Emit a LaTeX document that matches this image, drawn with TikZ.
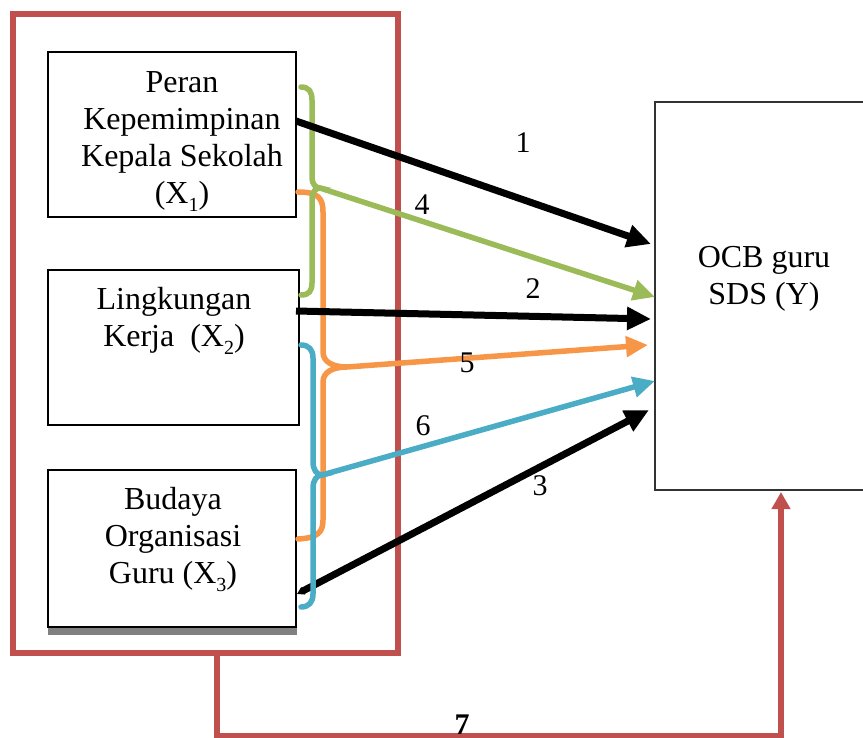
\documentclass[tikz,border=0pt]{standalone}
\usepackage{fontspec}
\setmainfont{Liberation Serif}
\usetikzlibrary{arrows.meta}
\definecolor{cgreen}{HTML}{9BBB59}
\definecolor{corange}{HTML}{F79646}
\definecolor{cblue}{HTML}{4BACC6}
\definecolor{cred}{HTML}{C0504D}
\newcommand\subx[1]{\raisebox{-0.25em}{\fontsize{20}{20}\selectfont #1}}
\begin{document}
\begin{tikzpicture}[x=1pt,y=-1pt,
 txt/.style={font=\fontsize{32}{37}\selectfont, align=center, inner sep=0pt, anchor=base},
 lbl/.style={font=\fontsize{30}{30}\selectfont, inner sep=0pt, anchor=base},
 varbox/.style={draw=black, line width=2pt, fill=white, inner sep=0pt},
 blackarrow/.style={line width=7pt, -{Triangle[length=24pt,width=22pt]}},
 colarrow/.style={line width=5.5pt, -{Triangle[length=22pt,width=20pt]}},
 brace/.style={line width=5.5pt, line cap=round}]
\useasboundingbox (0,0) rectangle (863,738);
% outer red frame
\node[draw=cred, line width=6pt, minimum width=385pt, minimum height=639pt, inner sep=0pt] (frame) at (205.5,333.5) {};
% dependent variable box
\node[draw=black!80, line width=1.6pt, minimum width=220pt, minimum height=388pt, inner sep=0pt] (y) at (765,296) {};
\node[txt] (yt) at (764,305) {OCB guru\\SDS (Y)};
% independent variable boxes
\fill[gray] (48,627) rectangle (297,635);
\node[varbox, minimum width=248pt, minimum height=165pt] (x1) at (172,134.5) {};
\node[varbox, minimum width=251pt, minimum height=155pt] (x2) at (173.5,347.5) {};
\node[varbox, minimum width=248pt, minimum height=157pt] (x3) at (172,548.5) {};
\node[txt] (x1t) at (182,203.5) {Peran\\Kepemimpinan\\Kepala Sekolah\\(X\subx{1})};
\node[txt] (x2t) at (174,347) {Lingkungan\\Kerja\ \ (X\subx{2})};
\node[txt] (x3t) at (173,583.5) {Budaya\\Organisasi\\Guru (X\subx{3})};
% coordinates
\coordinate (s1) at (296,121);
\coordinate (s2) at (296,311);
\coordinate (s3) at (297,594);
\coordinate (gtip) at (320,188);
\coordinate (otip) at (347,367);
\coordinate (btip) at (322,475);
\coordinate (e1) at (651,244);
\coordinate (e4) at (655,297);
\coordinate (e2) at (651,319);
\coordinate (e5) at (648,345);
\coordinate (e6) at (655,381);
\coordinate (e3) at (649,410);
\coordinate (f7) at (217,653);
\coordinate (yb) at (781,492);
% braces
\draw[brace, corange] (298,192) .. controls (318,192) and (323,198) .. (323,212) -- (323,352)
  .. controls (323,362) and (333,367) .. (otip) .. controls (333,367) and (323,372) .. (323,382)
  -- (323,520) .. controls (323,532) and (318,538) .. (298,539);
\draw[brace, cgreen] (301,87) .. controls (309,87) and (312,92) .. (312,100) -- (312,178)
  .. controls (312,184) and (316,188) .. (gtip) .. controls (316,188) and (312,192) .. (312,198)
  -- (312,283) .. controls (312,291) and (309,295) .. (301,295);
\draw[line width=7pt, {Triangle[length=7pt,width=8pt]}-{Triangle[length=24pt,width=22pt]}] (s3) -- (e3);
\draw[brace, cblue] (301,345) .. controls (309,345) and (313,350) .. (313,358) -- (313,462)
  .. controls (313,470) and (317,475) .. (btip) .. controls (317,475) and (313,480) .. (313,488)
  -- (313,594) .. controls (313,602) and (309,607) .. (301,607);
% arrows
\draw[colarrow, cgreen] (gtip) -- (e4);
\draw[colarrow, corange] (otip) -- (e5);
\draw[colarrow, cblue] (btip) -- (e6);
\draw[blackarrow] (s1) -- (e1);
\draw[blackarrow] (s2) -- (e2);
% path 7
\draw[cred, line width=5.5pt, -{Triangle[length=17pt,width=18pt]}] (f7) -- (217,736) -- (781,736) -- (yb);
% labels
\node[lbl] (l1) at (523,153) {1};
\node[lbl] (l4) at (422,215) {4};
\node[lbl] (l2) at (533,299) {2};
\node[lbl] (l5) at (467,373) {5};
\node[lbl] (l6) at (423,435) {6};
\node[lbl] (l3) at (540,495) {3};
\node[lbl, font=\fontsize{30}{30}\selectfont\bfseries] (l7) at (462,734) {7};
\end{tikzpicture}
\end{document}
